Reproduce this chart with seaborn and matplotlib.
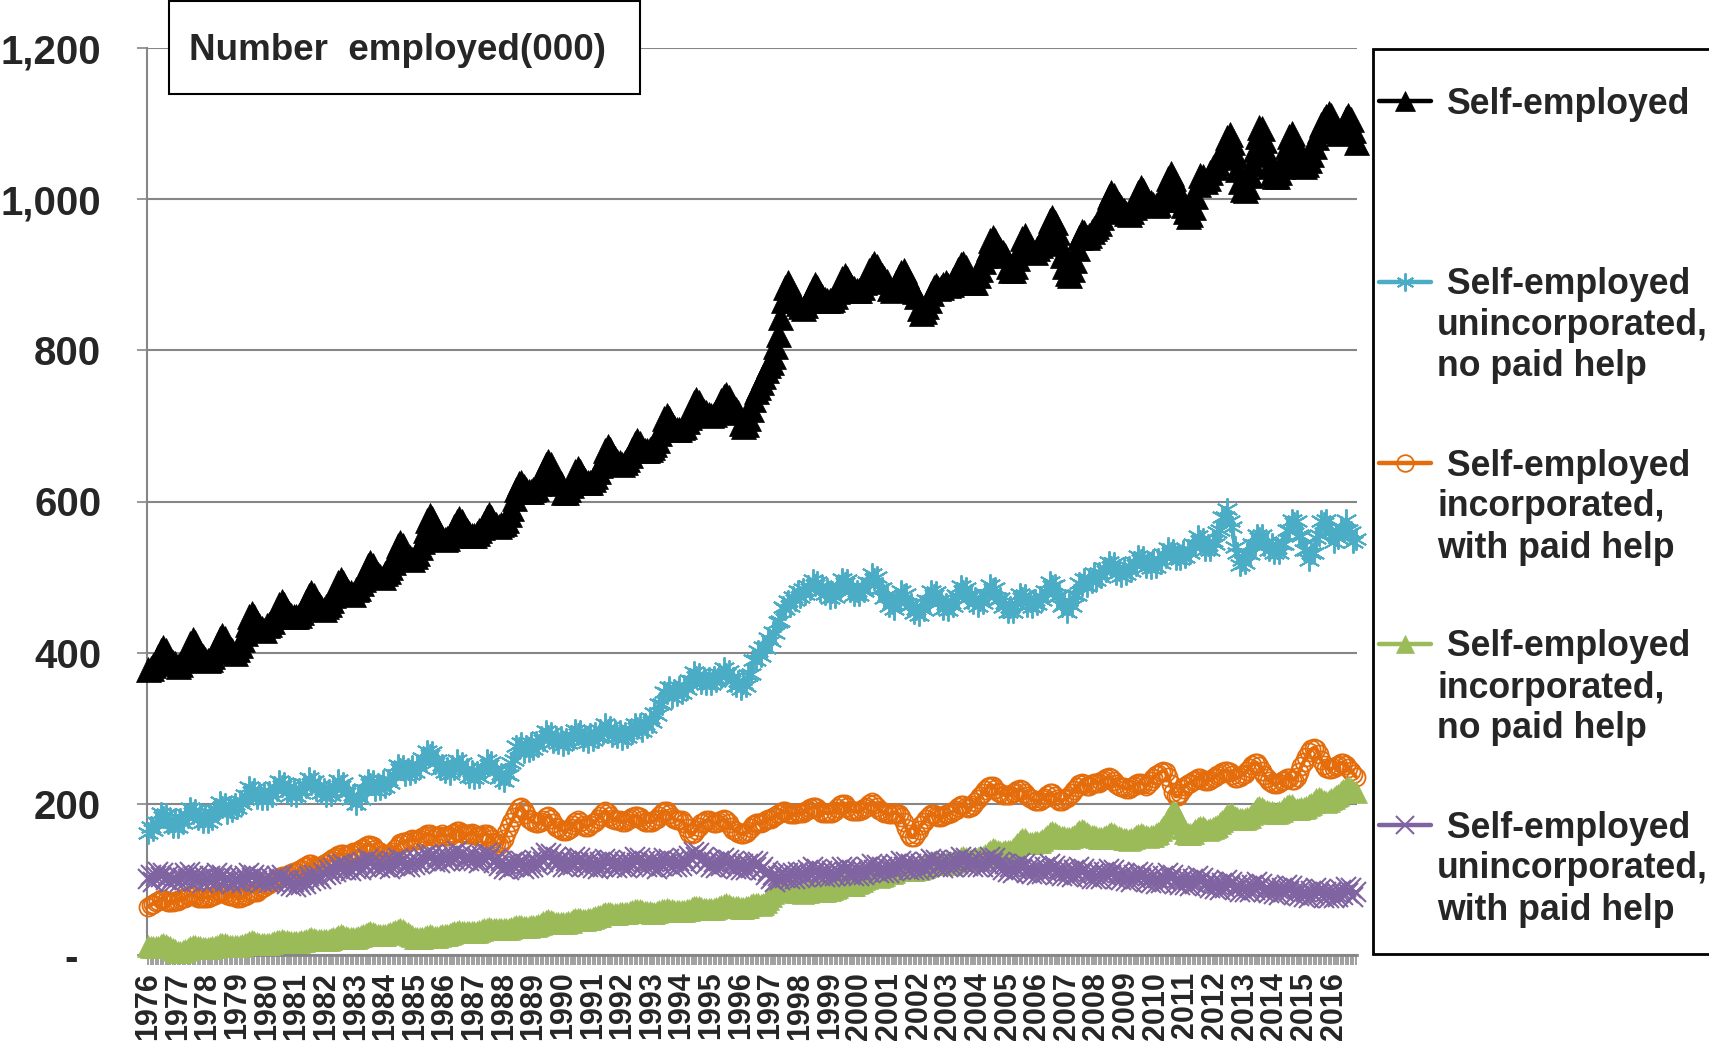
import numpy as np
import pandas as pd
import matplotlib
matplotlib.use("Agg")
import matplotlib.pyplot as plt
from matplotlib.lines import Line2D
from matplotlib.patches import Rectangle
import seaborn as sns

# ---------------- data (monthly, Jan 1976 - Oct 2016, thousands) ----------------
years = list(range(1976, 2017))
months = [f"{y}-{m:02d}" for y in years for m in range(1, 13)][:490]
year_labels = [str(y) for y in years]

self_employed = [
 378, 380, 384, 388, 396, 404, 408, 404, 396, 392, 388, 386,
 383, 385, 390, 395, 405, 413, 418, 414, 404, 400, 396, 392,
 390, 392, 396, 402, 410, 420, 424, 419, 410, 406, 403, 400,
 405, 410, 418, 426, 438, 448, 452, 449, 440, 436, 432, 430,
 436, 438, 442, 448, 456, 464, 468, 465, 457, 453, 450, 448,
 448, 450, 454, 460, 468, 476, 480, 476, 468, 464, 460, 458,
 462, 464, 470, 476, 486, 494, 498, 494, 486, 482, 480, 478,
 484, 486, 492, 498, 508, 516, 520, 516, 508, 504, 502, 500,
 506, 508, 514, 520, 532, 542, 546, 542, 532, 528, 526, 524,
 528, 532, 540, 548, 562, 576, 582, 578, 566, 560, 556, 552,
 550, 552, 556, 560, 568, 574, 578, 574, 566, 562, 558, 556,
 556, 558, 562, 566, 572, 580, 584, 580, 572, 570, 568, 570,
 572, 576, 584, 592, 604, 616, 624, 626, 620, 616, 614, 614,
 616, 618, 624, 630, 640, 650, 654, 650, 640, 634, 628, 624,
 612, 612, 616, 622, 630, 640, 644, 640, 632, 628, 626, 626,
 630, 634, 640, 648, 658, 668, 674, 670, 662, 658, 654, 652,
 650, 652, 656, 662, 670, 678, 682, 678, 670, 668, 668, 670,
 672, 676, 682, 690, 700, 710, 714, 710, 702, 698, 696, 696,
 698, 700, 706, 712, 722, 732, 736, 732, 724, 720, 718, 716,
 714, 716, 720, 726, 734, 740, 742, 738, 730, 726, 722, 718,
 704, 700, 702, 710, 722, 736, 746, 752, 758, 766, 774, 780,
 784, 792, 806, 822, 844, 866, 884, 890, 882, 874, 866, 862,
 858, 856, 860, 866, 874, 882, 888, 884, 876, 872, 868, 866,
 866, 868, 872, 878, 888, 896, 900, 896, 888, 884, 882, 880,
 880, 884, 890, 896, 906, 912, 916, 912, 904, 900, 896, 892,
 882, 880, 884, 890, 898, 904, 906, 900, 890, 884, 878, 872,
 856, 850, 852, 858, 866, 876, 884, 886, 882, 884, 888, 890,
 886, 888, 894, 900, 908, 914, 916, 910, 900, 894, 890, 890,
 900, 908, 918, 926, 936, 946, 950, 946, 938, 934, 930, 926,
 912, 906, 906, 912, 922, 936, 948, 952, 944, 938, 932, 930,
 936, 940, 946, 952, 962, 972, 976, 970, 956, 942, 926, 912,
 902, 900, 908, 920, 936, 950, 958, 956, 950, 952, 958, 962,
 964, 968, 976, 984, 994, 1004, 1010, 1006, 998, 994, 990, 986,
 982, 980, 984, 990, 1000, 1010, 1016, 1012, 1002, 998, 996, 994,
 992, 994, 1000, 1008, 1018, 1028, 1034, 1028, 1016, 1008, 1000, 992,
 984, 978, 980, 990, 1004, 1020, 1032, 1030, 1024, 1028, 1036, 1042,
 1044, 1048, 1056, 1064, 1074, 1082, 1086, 1076, 1058, 1040, 1024, 1014,
 1012, 1018, 1032, 1048, 1066, 1084, 1096, 1094, 1078, 1060, 1044, 1034,
 1030, 1030, 1036, 1044, 1056, 1070, 1084, 1088, 1078, 1064, 1052, 1046,
 1044, 1046, 1052, 1060, 1070, 1082, 1092, 1100, 1106, 1110, 1114, 1112,
 1100, 1092, 1088, 1090, 1098, 1108, 1112, 1106, 1092, 1076,
]

unincorporated_no_help = [
 162, 170, 165, 176, 174, 188, 182, 186, 174, 180, 170, 177,
 170, 180, 174, 186, 182, 194, 188, 192, 180, 186, 176, 184,
 176, 186, 180, 192, 190, 202, 196, 200, 188, 196, 190, 200,
 194, 204, 200, 212, 210, 222, 216, 220, 208, 214, 206, 214,
 206, 216, 210, 222, 218, 230, 224, 228, 216, 222, 212, 220,
 210, 220, 214, 226, 222, 234, 226, 230, 218, 224, 214, 220,
 210, 218, 212, 224, 220, 232, 224, 228, 214, 218, 206, 212,
 200, 210, 206, 220, 218, 232, 226, 230, 218, 226, 220, 230,
 222, 232, 228, 240, 238, 252, 246, 250, 238, 246, 240, 250,
 242, 252, 248, 260, 258, 270, 264, 268, 254, 258, 246, 252,
 242, 248, 240, 250, 246, 258, 250, 254, 242, 246, 236, 244,
 234, 242, 236, 248, 246, 258, 252, 256, 242, 246, 234, 240,
 230, 240, 238, 254, 258, 276, 274, 280, 268, 276, 270, 280,
 272, 282, 276, 288, 284, 296, 290, 294, 282, 288, 280, 288,
 278, 286, 280, 290, 286, 298, 292, 296, 284, 290, 282, 292,
 284, 294, 288, 298, 294, 306, 298, 302, 290, 296, 288, 296,
 286, 294, 288, 298, 294, 306, 300, 306, 296, 306, 302, 314,
 308, 320, 318, 332, 332, 348, 346, 354, 342, 350, 344, 354,
 346, 356, 352, 364, 362, 374, 368, 372, 360, 366, 358, 366,
 358, 368, 362, 372, 368, 380, 372, 376, 362, 366, 356, 362,
 352, 360, 356, 370, 372, 390, 390, 402, 396, 408, 406, 420,
 416, 428, 426, 440, 442, 460, 458, 468, 462, 474, 470, 482,
 474, 484, 478, 488, 484, 496, 490, 494, 482, 488, 478, 484,
 472, 480, 474, 486, 484, 498, 492, 496, 482, 486, 476, 482,
 476, 486, 482, 494, 492, 504, 498, 500, 484, 486, 472, 476,
 462, 466, 458, 470, 468, 482, 476, 478, 462, 464, 452, 458,
 450, 460, 456, 470, 468, 482, 476, 480, 466, 470, 458, 464,
 456, 466, 462, 476, 474, 488, 482, 486, 472, 476, 466, 472,
 462, 470, 466, 478, 476, 490, 484, 486, 470, 472, 460, 466,
 454, 460, 454, 466, 464, 478, 472, 476, 462, 468, 460, 470,
 464, 474, 470, 482, 480, 494, 488, 490, 474, 476, 462, 464,
 454, 464, 462, 476, 476, 492, 490, 498, 488, 498, 494, 506,
 496, 506, 500, 512, 508, 520, 514, 518, 504, 510, 502, 512,
 504, 514, 508, 520, 516, 528, 522, 526, 514, 520, 512, 522,
 514, 524, 518, 530, 526, 538, 532, 536, 524, 530, 524, 534,
 526, 536, 532, 544, 542, 554, 548, 550, 536, 542, 536, 548,
 544, 560, 562, 580, 580, 590, 574, 566, 540, 532, 516, 522,
 518, 532, 530, 544, 542, 556, 552, 556, 542, 546, 536, 544,
 532, 538, 532, 544, 544, 562, 562, 576, 572, 574, 556, 554,
 536, 536, 522, 532, 532, 552, 556, 574, 572, 576, 560, 560,
 546, 556, 552, 566, 564, 576, 562, 560, 546, 550,
]

incorporated_with_help = [
 64, 66, 68, 70, 72, 74, 74, 72, 70, 70, 70, 72,
 72, 74, 75, 76, 78, 80, 80, 78, 76, 76, 76, 76,
 76, 77, 78, 80, 82, 84, 84, 82, 80, 78, 78, 78,
 76, 76, 77, 78, 80, 82, 84, 84, 84, 86, 88, 90,
 92, 94, 96, 98, 100, 102, 104, 104, 104, 106, 108, 110,
 110, 112, 114, 116, 118, 120, 120, 118, 116, 116, 118, 120,
 122, 124, 126, 128, 130, 132, 134, 134, 132, 132, 134, 136,
 136, 138, 140, 142, 144, 146, 146, 144, 140, 138, 136, 134,
 132, 132, 134, 136, 140, 144, 148, 150, 150, 150, 152, 154,
 152, 152, 154, 156, 158, 160, 160, 158, 156, 156, 158, 160,
 158, 158, 158, 160, 162, 164, 164, 162, 160, 160, 160, 162,
 160, 158, 158, 158, 160, 160, 158, 154, 150, 148, 146, 148,
 154, 162, 170, 176, 182, 188, 194, 196, 192, 186, 180, 178,
 176, 174, 174, 176, 178, 182, 184, 180, 174, 170, 168, 166,
 164, 164, 166, 168, 172, 176, 178, 176, 172, 170, 170, 172,
 174, 176, 180, 184, 188, 190, 188, 184, 180, 178, 178, 178,
 176, 176, 178, 180, 182, 184, 184, 182, 178, 176, 176, 176,
 176, 178, 180, 184, 188, 190, 190, 186, 182, 180, 178, 178,
 178, 174, 168, 162, 160, 162, 166, 170, 174, 176, 178, 178,
 176, 174, 174, 176, 178, 180, 178, 174, 170, 166, 164, 162,
 160, 160, 162, 164, 168, 172, 174, 174, 174, 176, 178, 180,
 180, 182, 184, 186, 188, 190, 190, 188, 186, 186, 186, 188,
 188, 188, 190, 192, 194, 196, 196, 194, 190, 188, 188, 188,
 188, 188, 190, 194, 198, 200, 200, 196, 192, 190, 190, 190,
 190, 192, 194, 196, 200, 202, 200, 196, 192, 190, 188, 188,
 186, 186, 188, 188, 186, 182, 176, 168, 160, 156, 156, 160,
 166, 172, 176, 180, 184, 186, 186, 184, 182, 182, 184, 186,
 186, 188, 190, 192, 196, 198, 198, 196, 194, 196, 198, 202,
 206, 210, 214, 218, 222, 224, 224, 220, 216, 214, 212, 212,
 212, 212, 214, 216, 218, 220, 218, 214, 210, 208, 206, 204,
 204, 204, 206, 208, 212, 214, 214, 210, 206, 204, 204, 206,
 208, 210, 214, 218, 222, 226, 228, 226, 224, 224, 226, 228,
 228, 228, 230, 232, 234, 236, 234, 230, 226, 224, 222, 222,
 220, 220, 222, 224, 226, 228, 228, 226, 224, 226, 230, 234,
 238, 240, 242, 244, 242, 236, 226, 216, 210, 210, 214, 220,
 224, 226, 228, 230, 232, 234, 234, 232, 230, 230, 232, 234,
 236, 238, 240, 242, 244, 244, 242, 238, 234, 234, 236, 238,
 240, 244, 248, 252, 254, 254, 250, 244, 238, 234, 230, 228,
 226, 226, 228, 230, 232, 234, 234, 232, 232, 236, 242, 250,
 256, 262, 268, 272, 274, 272, 266, 258, 252, 248, 246, 246,
 248, 250, 252, 254, 254, 252, 248, 244, 240, 236,
]

incorporated_no_help = [
 12, 11, 10, 10, 11, 13, 14, 13, 11, 10, 8, 6,
 4, 4, 5, 6, 8, 10, 12, 12, 11, 10, 9, 9,
 9, 9, 10, 11, 12, 14, 15, 14, 13, 12, 12, 12,
 12, 12, 13, 14, 15, 17, 18, 17, 16, 15, 15, 15,
 15, 15, 16, 17, 18, 19, 20, 19, 18, 17, 17, 17,
 17, 17, 18, 19, 20, 21, 22, 21, 20, 20, 20, 20,
 20, 20, 21, 22, 23, 25, 26, 25, 24, 23, 23, 23,
 23, 24, 25, 26, 28, 29, 30, 29, 28, 27, 27, 27,
 27, 28, 29, 30, 32, 33, 34, 33, 31, 29, 27, 25,
 23, 22, 22, 23, 24, 25, 26, 25, 24, 24, 25, 26,
 26, 27, 28, 29, 30, 31, 32, 31, 30, 30, 30, 31,
 31, 31, 32, 33, 34, 35, 36, 35, 34, 34, 34, 34,
 34, 34, 35, 36, 37, 38, 39, 38, 37, 37, 37, 38,
 38, 39, 40, 41, 43, 45, 46, 45, 43, 42, 42, 42,
 42, 42, 43, 44, 46, 48, 48, 47, 46, 46, 47, 48,
 49, 50, 51, 52, 54, 56, 56, 55, 54, 54, 54, 55,
 55, 55, 56, 57, 58, 59, 60, 59, 58, 57, 57, 57,
 56, 56, 57, 58, 59, 60, 61, 60, 59, 58, 58, 58,
 58, 58, 59, 60, 62, 63, 64, 63, 62, 61, 61, 61,
 61, 61, 62, 63, 65, 66, 67, 66, 64, 63, 63, 63,
 62, 62, 63, 64, 66, 67, 68, 67, 66, 67, 70, 74,
 78, 82, 86, 90, 92, 92, 90, 88, 86, 85, 84, 84,
 83, 82, 83, 84, 86, 88, 89, 88, 86, 85, 85, 86,
 86, 87, 88, 90, 92, 94, 95, 94, 92, 92, 93, 95,
 96, 98, 100, 102, 104, 106, 106, 104, 103, 104, 106, 108,
 108, 109, 110, 112, 114, 116, 116, 114, 112, 112, 113, 114,
 114, 115, 116, 118, 120, 122, 123, 122, 120, 120, 121, 122,
 122, 122, 123, 124, 126, 128, 129, 128, 126, 126, 127, 128,
 128, 129, 130, 132, 135, 138, 140, 139, 137, 136, 136, 137,
 137, 138, 140, 143, 147, 151, 154, 153, 150, 148, 148, 149,
 149, 150, 152, 155, 158, 161, 163, 162, 159, 157, 156, 156,
 155, 155, 156, 158, 161, 164, 165, 164, 161, 159, 158, 157,
 156, 155, 155, 156, 158, 160, 161, 160, 158, 156, 155, 154,
 153, 152, 153, 155, 157, 159, 160, 159, 157, 156, 157, 158,
 160, 162, 165, 169, 174, 180, 186, 190, 188, 182, 175, 168,
 162, 160, 160, 162, 165, 168, 170, 169, 167, 166, 167, 168,
 169, 171, 174, 177, 181, 185, 187, 186, 183, 181, 180, 180,
 180, 181, 183, 186, 190, 194, 196, 195, 192, 190, 189, 189,
 188, 188, 189, 191, 194, 197, 199, 198, 195, 193, 193, 194,
 195, 196, 198, 200, 203, 206, 208, 207, 204, 203, 204, 206,
 208, 210, 212, 215, 218, 221, 222, 220, 217, 215,
]

unincorporated_with_help = [
 100, 106, 97, 104, 110, 103, 108, 99, 105, 96, 102, 98,
 104, 97, 102, 108, 100, 110, 104, 98, 106, 100, 95, 103,
 98, 104, 96, 102, 108, 101, 106, 97, 103, 99, 94, 100,
 97, 103, 95, 104, 99, 109, 102, 106, 98, 104, 96, 101,
 100, 95, 101, 97, 104, 99, 106, 98, 94, 99, 91, 96,
 90, 96, 92, 99, 94, 104, 98, 106, 100, 105, 101, 109,
 106, 112, 107, 115, 110, 119, 113, 120, 112, 117, 111, 118,
 114, 120, 113, 123, 117, 127, 120, 125, 117, 123, 115, 121,
 116, 122, 114, 124, 118, 128, 121, 126, 117, 123, 116, 124,
 119, 126, 120, 130, 124, 134, 127, 132, 123, 129, 122, 130,
 124, 131, 125, 133, 127, 137, 130, 134, 125, 131, 124, 132,
 125, 130, 122, 131, 126, 135, 128, 132, 122, 127, 118, 124,
 114, 121, 113, 122, 116, 126, 118, 124, 114, 121, 115, 123,
 117, 125, 119, 130, 123, 135, 128, 133, 123, 129, 120, 127,
 117, 124, 116, 125, 119, 129, 122, 128, 118, 125, 116, 124,
 115, 122, 114, 123, 117, 127, 120, 126, 116, 123, 115, 122,
 116, 123, 115, 125, 119, 129, 122, 128, 118, 125, 117, 124,
 116, 123, 114, 124, 118, 128, 121, 127, 117, 124, 116, 125,
 118, 127, 121, 131, 126, 136, 129, 135, 124, 130, 120, 126,
 116, 123, 115, 124, 118, 128, 120, 126, 116, 123, 114, 121,
 113, 120, 112, 121, 115, 125, 117, 123, 112, 117, 106, 111,
 100, 106, 97, 105, 99, 109, 102, 109, 100, 108, 101, 110,
 102, 110, 103, 112, 106, 116, 108, 114, 104, 111, 103, 111,
 103, 111, 104, 113, 107, 117, 110, 116, 106, 113, 105, 113,
 105, 113, 106, 116, 110, 120, 113, 119, 109, 116, 108, 117,
 109, 118, 111, 120, 114, 124, 117, 123, 113, 120, 112, 121,
 113, 121, 114, 123, 117, 127, 120, 126, 116, 123, 115, 124,
 116, 124, 117, 126, 120, 130, 122, 128, 118, 125, 117, 125,
 116, 124, 117, 126, 120, 130, 122, 128, 117, 123, 113, 120,
 110, 117, 109, 118, 112, 122, 114, 120, 109, 116, 107, 115,
 106, 114, 107, 116, 110, 120, 112, 118, 107, 114, 105, 113,
 104, 111, 103, 112, 106, 116, 108, 114, 103, 110, 101, 109,
 100, 108, 101, 110, 104, 114, 106, 112, 101, 108, 99, 107,
 98, 105, 97, 106, 100, 110, 102, 108, 97, 104, 95, 103,
 94, 102, 95, 104, 98, 108, 100, 106, 95, 102, 93, 101,
 92, 99, 91, 100, 94, 104, 96, 102, 91, 98, 89, 96,
 87, 94, 86, 95, 89, 99, 91, 97, 86, 93, 84, 92,
 84, 91, 83, 92, 86, 96, 88, 94, 83, 90, 82, 90,
 81, 88, 80, 89, 83, 93, 85, 91, 80, 87, 78, 86,
 77, 84, 76, 85, 79, 89, 81, 87, 76, 83, 75, 84,
 76, 84, 77, 86, 80, 90, 82, 88, 77, 83,
]

series_names = [
    "Self-employed",
    "Self-employed unincorporated, no paid help",
    "Self-employed incorporated, with paid help",
    "Self-employed incorporated, no paid help",
    "Self-employed unincorporated, with paid help",
]
series_values = [self_employed, unincorporated_no_help, incorporated_with_help,
                 incorporated_no_help, unincorporated_with_help]
y_ticks = [0, 200, 400, 600, 800, 1000, 1200]
y_tick_labels = ["-  ", "200", "400", "600", "800", "1,000", "1,200"]

# ---------------- styling ----------------
W, H = 1709, 1045
sns.set_style("white")
plt.rcParams["font.family"] = ["Liberation Sans", "DejaVu Sans"]
plt.rcParams["font.weight"] = "bold"

GRID = "#868686"
styles = [
    dict(color="#000000", marker="^", ms=18, mfc="#000000", mec="#000000", mew=0.5),
    dict(color="#4BACC6", marker=(6, 2, 0), ms=16, mfc="#4BACC6", mec="#4BACC6", mew=1.4),
    dict(color="#E46C0A", marker="o", ms=13, mfc="none", mec="#E46C0A", mew=1.3),
    dict(color="#9BBB59", marker="^", ms=16, mfc="#9BBB59", mec="#9BBB59", mew=0.5),
    dict(color="#8064A2", marker="x", ms=14, mfc="#8064A2", mec="#8064A2", mew=1.5),
]

frames = []
for name, vals in zip(series_names, series_values):
    assert len(vals) == len(months), (name, len(vals))
    frames.append(pd.DataFrame({"idx": np.arange(len(months)), "month": months,
                                "value": vals, "series": name}))
df = pd.concat(frames, ignore_index=True)

fig = plt.figure(figsize=(W / 100, H / 100), dpi=100)
ax = fig.add_axes([147 / W, 90 / H, 1210 / W, 907 / H])

for i, (name, st) in enumerate(zip(series_names, styles)):
    sub = df[df["series"] == name]
    sns.lineplot(data=sub, x="idx", y="value", ax=ax, errorbar=None, sort=True,
                 lw=3, zorder=3 + i, clip_on=False, legend=False, **st)

ax.set_xlim(-0.5, len(months) - 0.5)
ax.set_ylim(0, 1200)
ax.set_xlabel("")
ax.set_ylabel("")

# y axis
ax.set_yticks(y_ticks)
ax.set_yticklabels(y_tick_labels, fontsize=29, fontweight="bold")
ax.yaxis.grid(True, color=GRID, lw=1.5)
ax.xaxis.grid(False)
ax.set_axisbelow(True)
ax.tick_params(axis="y", which="both", length=7, width=1.2, color=GRID, pad=26, left=True)

# x axis: tick at every month, label every January
ax.set_xticks(np.arange(0, len(months), 12))
ax.set_xticklabels(year_labels, rotation=90, fontsize=22, fontweight="bold")
ax.set_xticks(np.arange(len(months)), minor=True)
ax.tick_params(axis="x", which="both", length=7, width=1.1, color=GRID, pad=5, bottom=True)
for lab in ax.get_xticklabels():
    lab.set_va("top")
    lab.set_ha("center")

for s in ["top", "right"]:
    ax.spines[s].set_visible(False)
ax.spines["left"].set_color(GRID)
ax.spines["left"].set_linewidth(1.5)
ax.spines["bottom"].set_color(GRID)
ax.spines["bottom"].set_linewidth(2)


def fx(px):
    return px / W


def fy(py):
    return 1 - py / H


# title box
fig.add_artist(Rectangle((fx(169), fy(94)), (640 - 169) / W, 93 / H,
                         transform=fig.transFigure, facecolor="white",
                         edgecolor="black", lw=1.5, zorder=10))
fig.text(fx(189), fy(50), "Number  employed(000)", fontsize=26.5, fontweight="bold",
         va="center", ha="left", zorder=11)

# legend box
fig.add_artist(Rectangle((fx(1373), fy(954)), (1730 - 1373) / W, (954 - 49) / H,
                         transform=fig.transFigure, facecolor="white",
                         edgecolor="black", lw=2, zorder=10))

legend_lines = [
    ["Self-employed"],
    [" Self-employed", "unincorporated,", "no paid help"],
    [" Self-employed", "incorporated,", "with paid help"],
    [" Self-employed", "incorporated,", "no paid help"],
    [" Self-employed", "unincorporated,", "with paid help"],
]
legend_y = [101, 282, 463, 644, 825]
legend_ms = [15, 13, 12, 13, 13]
for lines, ly, st, lms in zip(legend_lines, legend_y, styles, legend_ms):
    st2 = dict(st)
    st2["ms"] = lms
    fig.add_artist(Line2D([fx(1379), fx(1405), fx(1431)], [fy(ly)] * 3,
                          transform=fig.transFigure, lw=3.2, markevery=[1],
                          zorder=11, **st2))
    if len(lines) == 1:
        fig.text(fx(1446), fy(ly + 3), lines[0], fontsize=25.7, fontweight="bold",
                 va="center", ha="left", zorder=12)
    else:
        for k, t in enumerate(lines):
            fig.text(fx(1437), fy(ly + 3 + k * 41), t, fontsize=25.7, fontweight="bold",
                     va="center", ha="left", zorder=12)

fig.savefig("out.png", dpi=100)
